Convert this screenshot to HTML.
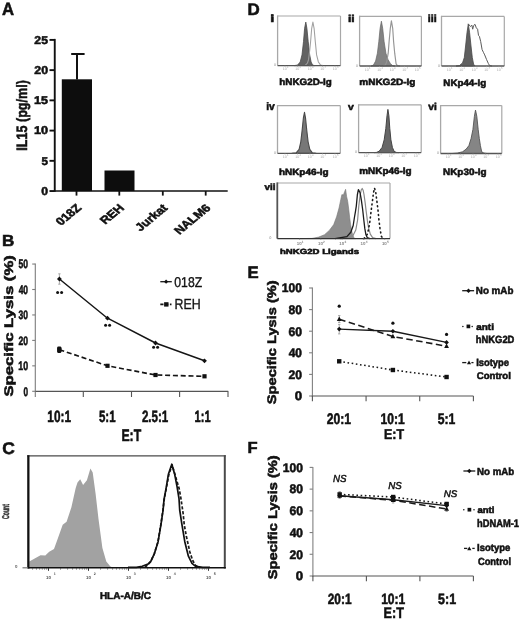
<!DOCTYPE html>
<html><head><meta charset="utf-8"><style>
html,body{margin:0;padding:0;background:#fff;}
svg{display:block;filter:grayscale(1) blur(0.3px);}
text{font-family:"Liberation Sans", sans-serif;text-rendering:geometricPrecision;}
</style></head><body>
<svg width="520" height="620" viewBox="0 0 520 620">
<rect x="0" y="0" width="520" height="620" fill="#fff"/>
<text x="1.98" y="15.40" font-size="17.73" font-weight="bold" font-style="normal" textLength="12.06" lengthAdjust="spacingAndGlyphs" fill="#111" stroke="#111" stroke-width="0.55">A</text>
<text x="2.06" y="245.60" font-size="15.99" font-weight="bold" font-style="normal" textLength="12.32" lengthAdjust="spacingAndGlyphs" fill="#111" stroke="#111" stroke-width="0.55">B</text>
<text x="2.28" y="453.60" font-size="16.86" font-weight="bold" font-style="normal" textLength="12.59" lengthAdjust="spacingAndGlyphs" fill="#111" stroke="#111" stroke-width="0.55">C</text>
<text x="247.47" y="15.20" font-size="16.86" font-weight="bold" font-style="normal" textLength="12.25" lengthAdjust="spacingAndGlyphs" fill="#111" stroke="#111" stroke-width="0.55">D</text>
<text x="247.48" y="278.00" font-size="16.57" font-weight="bold" font-style="normal" textLength="11.18" lengthAdjust="spacingAndGlyphs" fill="#111" stroke="#111" stroke-width="0.55">E</text>
<text x="247.49" y="453.40" font-size="15.99" font-weight="bold" font-style="normal" textLength="10.11" lengthAdjust="spacingAndGlyphs" fill="#111" stroke="#111" stroke-width="0.55">F</text>
<line x1="54.75" y1="38.90" x2="54.75" y2="191.80" stroke="#111" stroke-width="1.9"/>
<line x1="54.75" y1="191.05" x2="227.70" y2="191.05" stroke="#111" stroke-width="1.6"/>
<line x1="49.50" y1="191.05" x2="54.75" y2="191.05" stroke="#111" stroke-width="1.9"/>
<text x="41.32" y="194.95" font-size="11.34" font-weight="bold" font-style="normal" textLength="6.78" lengthAdjust="spacingAndGlyphs" fill="#111" stroke="#111" stroke-width="0.55">0</text>
<line x1="49.50" y1="160.82" x2="54.75" y2="160.82" stroke="#111" stroke-width="1.9"/>
<text x="41.44" y="164.72" font-size="11.34" font-weight="bold" font-style="normal" textLength="6.48" lengthAdjust="spacingAndGlyphs" fill="#111" stroke="#111" stroke-width="0.55">5</text>
<line x1="49.50" y1="130.59" x2="54.75" y2="130.59" stroke="#111" stroke-width="1.9"/>
<text x="34.00" y="134.49" font-size="11.34" font-weight="bold" font-style="normal" textLength="14.12" lengthAdjust="spacingAndGlyphs" fill="#111" stroke="#111" stroke-width="0.55">10</text>
<line x1="49.50" y1="100.36" x2="54.75" y2="100.36" stroke="#111" stroke-width="1.9"/>
<text x="34.01" y="104.26" font-size="11.34" font-weight="bold" font-style="normal" textLength="13.94" lengthAdjust="spacingAndGlyphs" fill="#111" stroke="#111" stroke-width="0.55">15</text>
<line x1="49.50" y1="70.13" x2="54.75" y2="70.13" stroke="#111" stroke-width="1.9"/>
<text x="34.37" y="74.03" font-size="11.34" font-weight="bold" font-style="normal" textLength="13.73" lengthAdjust="spacingAndGlyphs" fill="#111" stroke="#111" stroke-width="0.55">20</text>
<line x1="49.50" y1="39.90" x2="54.75" y2="39.90" stroke="#111" stroke-width="1.9"/>
<text x="34.38" y="43.80" font-size="11.34" font-weight="bold" font-style="normal" textLength="13.56" lengthAdjust="spacingAndGlyphs" fill="#111" stroke="#111" stroke-width="0.55">25</text>
<line x1="76.50" y1="191.05" x2="76.50" y2="195.60" stroke="#111" stroke-width="1.8"/>
<line x1="119.30" y1="191.05" x2="119.30" y2="195.60" stroke="#111" stroke-width="1.8"/>
<line x1="162.80" y1="191.05" x2="162.80" y2="195.60" stroke="#111" stroke-width="1.8"/>
<line x1="205.70" y1="191.05" x2="205.70" y2="195.60" stroke="#111" stroke-width="1.8"/>
<rect x="61.80" y="79.30" width="30.20" height="111.75" fill="#0d0d0d"/>
<rect x="104.50" y="170.50" width="30.00" height="20.55" fill="#0d0d0d"/>
<line x1="77.00" y1="54.00" x2="77.00" y2="79.50" stroke="#111" stroke-width="2"/>
<line x1="71.20" y1="54.00" x2="84.60" y2="54.00" stroke="#111" stroke-width="2"/>
<text transform="translate(26.50,150.64) rotate(-90)" x="0" y="0" font-size="14.97" font-weight="bold" textLength="70.47" lengthAdjust="spacingAndGlyphs" fill="#111" stroke="#111" stroke-width="0.55">IL15 (pg/ml)</text>
<text transform="matrix(0.7920,-0.6576,0.7920,0.6576,82.10,208.60)" x="0" y="0" font-size="11.70" font-weight="bold" text-anchor="end" fill="#111" stroke="#111" stroke-width="0.55">018Z</text>
<text transform="matrix(0.7920,-0.6576,0.7920,0.6576,124.90,208.60)" x="0" y="0" font-size="11.70" font-weight="bold" text-anchor="end" fill="#111" stroke="#111" stroke-width="0.55">REH</text>
<text transform="matrix(0.7920,-0.6576,0.7920,0.6576,168.40,208.60)" x="0" y="0" font-size="11.70" font-weight="bold" text-anchor="end" fill="#111" stroke="#111" stroke-width="0.55">Jurkat</text>
<text transform="matrix(0.7920,-0.6576,0.7920,0.6576,211.30,208.60)" x="0" y="0" font-size="11.70" font-weight="bold" text-anchor="end" fill="#111" stroke="#111" stroke-width="0.55">NALM6</text>
<line x1="35.30" y1="263.55" x2="35.30" y2="397.00" stroke="#7d7d7d" stroke-width="1.1"/>
<line x1="35.30" y1="391.30" x2="228.20" y2="391.30" stroke="#555" stroke-width="1.2"/>
<line x1="32.20" y1="391.30" x2="35.30" y2="391.30" stroke="#7d7d7d" stroke-width="1.1"/>
<text x="23.48" y="395.60" font-size="12.50" font-weight="bold" font-style="normal" textLength="4.56" lengthAdjust="spacingAndGlyphs" fill="#111" stroke="#111" stroke-width="0.55">0</text>
<line x1="32.20" y1="365.85" x2="35.30" y2="365.85" stroke="#7d7d7d" stroke-width="1.1"/>
<text x="18.24" y="370.05" font-size="12.21" font-weight="bold" font-style="normal" textLength="9.82" lengthAdjust="spacingAndGlyphs" fill="#111" stroke="#111" stroke-width="0.55">10</text>
<line x1="32.20" y1="340.40" x2="35.30" y2="340.40" stroke="#7d7d7d" stroke-width="1.1"/>
<text x="18.50" y="344.60" font-size="12.21" font-weight="bold" font-style="normal" textLength="9.55" lengthAdjust="spacingAndGlyphs" fill="#111" stroke="#111" stroke-width="0.55">20</text>
<line x1="32.20" y1="314.95" x2="35.30" y2="314.95" stroke="#7d7d7d" stroke-width="1.1"/>
<text x="18.61" y="319.15" font-size="12.21" font-weight="bold" font-style="normal" textLength="9.44" lengthAdjust="spacingAndGlyphs" fill="#111" stroke="#111" stroke-width="0.55">30</text>
<line x1="32.20" y1="289.50" x2="35.30" y2="289.50" stroke="#7d7d7d" stroke-width="1.1"/>
<text x="18.67" y="293.70" font-size="12.21" font-weight="bold" font-style="normal" textLength="9.37" lengthAdjust="spacingAndGlyphs" fill="#111" stroke="#111" stroke-width="0.55">40</text>
<line x1="32.20" y1="264.05" x2="35.30" y2="264.05" stroke="#7d7d7d" stroke-width="1.1"/>
<text x="18.54" y="268.25" font-size="12.21" font-weight="bold" font-style="normal" textLength="9.51" lengthAdjust="spacingAndGlyphs" fill="#111" stroke="#111" stroke-width="0.55">50</text>
<line x1="83.30" y1="391.30" x2="83.30" y2="397.00" stroke="#555" stroke-width="1.1"/>
<line x1="131.50" y1="391.30" x2="131.50" y2="397.00" stroke="#555" stroke-width="1.1"/>
<line x1="179.60" y1="391.30" x2="179.60" y2="397.00" stroke="#555" stroke-width="1.1"/>
<line x1="228.00" y1="391.30" x2="228.00" y2="397.00" stroke="#555" stroke-width="1.1"/>
<text x="47.36" y="422.30" font-size="16.42" font-weight="bold" font-style="normal" textLength="23.57" lengthAdjust="spacingAndGlyphs" fill="#111" stroke="#111" stroke-width="0.55">10:1</text>
<text x="98.95" y="422.30" font-size="16.42" font-weight="bold" font-style="normal" textLength="16.57" lengthAdjust="spacingAndGlyphs" fill="#111" stroke="#111" stroke-width="0.55">5:1</text>
<text x="141.90" y="422.30" font-size="16.42" font-weight="bold" font-style="normal" textLength="26.42" lengthAdjust="spacingAndGlyphs" fill="#111" stroke="#111" stroke-width="0.55">2.5:1</text>
<text x="194.60" y="422.30" font-size="16.42" font-weight="bold" font-style="normal" textLength="16.01" lengthAdjust="spacingAndGlyphs" fill="#111" stroke="#111" stroke-width="0.55">1:1</text>
<text x="121.38" y="441.00" font-size="16.57" font-weight="bold" font-style="normal" textLength="19.75" lengthAdjust="spacingAndGlyphs" fill="#111" stroke="#111" stroke-width="0.55">E:T</text>
<text transform="translate(13.10,396.58) rotate(-90)" x="0" y="0" font-size="12.35" font-weight="bold" textLength="141.41" lengthAdjust="spacingAndGlyphs" fill="#111" stroke="#111" stroke-width="0.55">Specific Lysis (%)</text>
<line x1="59.40" y1="273.80" x2="59.40" y2="284.20" stroke="#999" stroke-width="0.8"/>
<line x1="58.20" y1="273.80" x2="60.60" y2="273.80" stroke="#999" stroke-width="0.8"/>
<line x1="58.20" y1="284.20" x2="60.60" y2="284.20" stroke="#999" stroke-width="0.8"/>
<path d="M59.40,279.00 L107.50,318.20 L155.50,343.00 L204.50,360.80" fill="none" stroke="#151515" stroke-width="1.45" stroke-linejoin="round"/>
<path d="M59.40,349.70 L107.50,365.80 L155.50,375.00 L204.50,376.30" fill="none" stroke="#151515" stroke-width="1.65" stroke-linejoin="round" stroke-dasharray="5,2.8"/>
<path d="M59.40,276.60 L61.80,279.00 L59.40,281.40 L57.00,279.00 Z" fill="#111" stroke="none" stroke-width="1" stroke-linejoin="round"/>
<path d="M107.50,315.80 L109.90,318.20 L107.50,320.60 L105.10,318.20 Z" fill="#111" stroke="none" stroke-width="1" stroke-linejoin="round"/>
<path d="M155.50,340.60 L157.90,343.00 L155.50,345.40 L153.10,343.00 Z" fill="#111" stroke="none" stroke-width="1" stroke-linejoin="round"/>
<path d="M204.50,358.40 L206.90,360.80 L204.50,363.20 L202.10,360.80 Z" fill="#111" stroke="none" stroke-width="1" stroke-linejoin="round"/>
<rect x="57.30" y="347.60" width="4.20" height="4.20" fill="#111"/>
<rect x="105.40" y="363.70" width="4.20" height="4.20" fill="#111"/>
<rect x="153.40" y="372.90" width="4.20" height="4.20" fill="#111"/>
<rect x="202.40" y="374.20" width="4.20" height="4.20" fill="#111"/>
<circle cx="57.60" cy="292.40" r="1.5" fill="#111"/>
<circle cx="61.60" cy="292.40" r="1.5" fill="#111"/>
<circle cx="105.60" cy="325.20" r="1.5" fill="#111"/>
<circle cx="109.60" cy="325.20" r="1.5" fill="#111"/>
<circle cx="153.60" cy="347.20" r="1.5" fill="#111"/>
<circle cx="157.60" cy="347.20" r="1.5" fill="#111"/>
<line x1="160.30" y1="281.70" x2="171.80" y2="281.70" stroke="#151515" stroke-width="1.3"/>
<path d="M166.10,279.60 L168.20,281.70 L166.10,283.80 L164.00,281.70 Z" fill="#111" stroke="none" stroke-width="1" stroke-linejoin="round"/>
<line x1="160.30" y1="304.40" x2="171.50" y2="304.40" stroke="#151515" stroke-width="1.6" stroke-dasharray="3.2,1.6"/>
<rect x="164.10" y="302.20" width="4.40" height="4.40" fill="#111"/>
<text x="174.32" y="287.20" font-size="14.24" font-weight="normal" font-style="normal" textLength="27.86" lengthAdjust="spacingAndGlyphs" fill="#111" stroke="#111" stroke-width="0.35">018Z</text>
<text x="174.49" y="309.30" font-size="14.68" font-weight="normal" font-style="normal" textLength="26.12" lengthAdjust="spacingAndGlyphs" fill="#111" stroke="#111" stroke-width="0.35">REH</text>
<path d="M29.30,567.30 L29.30,561.40 L34.70,558.50 L40.50,555.30 L45.30,555.60 L49.20,551.80 L54.00,548.90 L57.90,538.20 L62.70,524.70 L66.60,521.80 L71.40,507.30 L75.70,487.90 L77.50,482.50 L80.20,479.20 L83.10,485.00 L86.90,480.20 L90.40,468.50 L92.70,472.40 L95.60,493.70 L98.50,518.90 L102.40,547.90 L106.30,561.40 L110.20,566.30 L112.00,567.30 Z" fill="#a2a2a2" stroke="none" stroke-width="1" stroke-linejoin="round"/>
<path d="M145.00,567.30 L150.50,562.00 L154.30,553.80 L157.90,542.00 L160.80,524.80 L162.90,510.50 L164.20,499.50 L166.20,488.80 L168.90,474.30 L172.20,465.00 L176.60,480.10 L179.20,488.80 L180.80,497.60 L182.20,507.20 L183.20,514.00 L184.20,524.40 L186.30,536.00 L189.80,551.80 L192.70,560.50 L195.60,565.60 L200.00,567.30" fill="none" stroke="#1a1a1a" stroke-width="1.7" stroke-linejoin="round" stroke-dasharray="3.2,1.8"/>
<path d="M128.00,567.30 L136.40,567.40 L142.20,566.30 L148.00,564.10 L150.90,561.20 L154.50,553.30 L158.10,541.70 L161.00,524.40 L163.10,510.00 L164.00,499.50 L166.00,488.80 L168.40,474.30 L171.80,464.20 L174.70,474.30 L177.10,486.90 L179.00,498.50 L179.70,510.00 L181.90,524.40 L184.80,541.70 L188.40,556.20 L192.00,563.40 L195.60,566.30 L202.80,567.40 L210.00,567.30" fill="none" stroke="#111" stroke-width="1.7" stroke-linejoin="round"/>
<line x1="27.20" y1="455.90" x2="225.80" y2="455.90" stroke="#4a4a4a" stroke-width="1.4"/>
<line x1="224.80" y1="455.20" x2="224.80" y2="568.50" stroke="#4a4a4a" stroke-width="2.0"/>
<line x1="28.35" y1="455.20" x2="28.35" y2="568.50" stroke="#111" stroke-width="2.3"/>
<line x1="22.50" y1="567.80" x2="28.00" y2="567.80" stroke="#777" stroke-width="1.2"/>
<line x1="28.00" y1="567.80" x2="225.80" y2="567.80" stroke="#111" stroke-width="1.5"/>
<line x1="48.50" y1="568.00" x2="48.50" y2="570.80" stroke="#333" stroke-width="1.0"/>
<line x1="32.58" y1="568.00" x2="32.58" y2="569.60" stroke="#555" stroke-width="0.8"/>
<line x1="36.46" y1="568.00" x2="36.46" y2="569.60" stroke="#555" stroke-width="0.8"/>
<line x1="39.63" y1="568.00" x2="39.63" y2="569.60" stroke="#555" stroke-width="0.8"/>
<line x1="42.30" y1="568.00" x2="42.30" y2="569.60" stroke="#555" stroke-width="0.8"/>
<line x1="44.62" y1="568.00" x2="44.62" y2="569.60" stroke="#555" stroke-width="0.8"/>
<line x1="46.67" y1="568.00" x2="46.67" y2="569.60" stroke="#555" stroke-width="0.8"/>
<text x="46.10" y="579.2" font-size="4.4" font-weight="bold" fill="#555">10</text>
<text x="53.70" y="575.4" font-size="3.6" font-weight="bold" fill="#555">1</text>
<line x1="88.50" y1="568.00" x2="88.50" y2="570.80" stroke="#333" stroke-width="1.0"/>
<line x1="60.54" y1="568.00" x2="60.54" y2="569.60" stroke="#555" stroke-width="0.8"/>
<line x1="67.58" y1="568.00" x2="67.58" y2="569.60" stroke="#555" stroke-width="0.8"/>
<line x1="72.58" y1="568.00" x2="72.58" y2="569.60" stroke="#555" stroke-width="0.8"/>
<line x1="76.46" y1="568.00" x2="76.46" y2="569.60" stroke="#555" stroke-width="0.8"/>
<line x1="79.63" y1="568.00" x2="79.63" y2="569.60" stroke="#555" stroke-width="0.8"/>
<line x1="82.30" y1="568.00" x2="82.30" y2="569.60" stroke="#555" stroke-width="0.8"/>
<line x1="84.62" y1="568.00" x2="84.62" y2="569.60" stroke="#555" stroke-width="0.8"/>
<line x1="86.67" y1="568.00" x2="86.67" y2="569.60" stroke="#555" stroke-width="0.8"/>
<text x="86.10" y="579.2" font-size="4.4" font-weight="bold" fill="#555">10</text>
<text x="93.70" y="575.4" font-size="3.6" font-weight="bold" fill="#555">2</text>
<line x1="128.50" y1="568.00" x2="128.50" y2="570.80" stroke="#333" stroke-width="1.0"/>
<line x1="100.54" y1="568.00" x2="100.54" y2="569.60" stroke="#555" stroke-width="0.8"/>
<line x1="107.58" y1="568.00" x2="107.58" y2="569.60" stroke="#555" stroke-width="0.8"/>
<line x1="112.58" y1="568.00" x2="112.58" y2="569.60" stroke="#555" stroke-width="0.8"/>
<line x1="116.46" y1="568.00" x2="116.46" y2="569.60" stroke="#555" stroke-width="0.8"/>
<line x1="119.63" y1="568.00" x2="119.63" y2="569.60" stroke="#555" stroke-width="0.8"/>
<line x1="122.30" y1="568.00" x2="122.30" y2="569.60" stroke="#555" stroke-width="0.8"/>
<line x1="124.62" y1="568.00" x2="124.62" y2="569.60" stroke="#555" stroke-width="0.8"/>
<line x1="126.67" y1="568.00" x2="126.67" y2="569.60" stroke="#555" stroke-width="0.8"/>
<text x="126.10" y="579.2" font-size="4.4" font-weight="bold" fill="#555">10</text>
<text x="133.70" y="575.4" font-size="3.6" font-weight="bold" fill="#555">3</text>
<line x1="168.50" y1="568.00" x2="168.50" y2="570.80" stroke="#333" stroke-width="1.0"/>
<line x1="140.54" y1="568.00" x2="140.54" y2="569.60" stroke="#555" stroke-width="0.8"/>
<line x1="147.58" y1="568.00" x2="147.58" y2="569.60" stroke="#555" stroke-width="0.8"/>
<line x1="152.58" y1="568.00" x2="152.58" y2="569.60" stroke="#555" stroke-width="0.8"/>
<line x1="156.46" y1="568.00" x2="156.46" y2="569.60" stroke="#555" stroke-width="0.8"/>
<line x1="159.63" y1="568.00" x2="159.63" y2="569.60" stroke="#555" stroke-width="0.8"/>
<line x1="162.30" y1="568.00" x2="162.30" y2="569.60" stroke="#555" stroke-width="0.8"/>
<line x1="164.62" y1="568.00" x2="164.62" y2="569.60" stroke="#555" stroke-width="0.8"/>
<line x1="166.67" y1="568.00" x2="166.67" y2="569.60" stroke="#555" stroke-width="0.8"/>
<text x="166.10" y="579.2" font-size="4.4" font-weight="bold" fill="#555">10</text>
<text x="173.70" y="575.4" font-size="3.6" font-weight="bold" fill="#555">4</text>
<line x1="208.50" y1="568.00" x2="208.50" y2="570.80" stroke="#333" stroke-width="1.0"/>
<line x1="180.54" y1="568.00" x2="180.54" y2="569.60" stroke="#555" stroke-width="0.8"/>
<line x1="187.58" y1="568.00" x2="187.58" y2="569.60" stroke="#555" stroke-width="0.8"/>
<line x1="192.58" y1="568.00" x2="192.58" y2="569.60" stroke="#555" stroke-width="0.8"/>
<line x1="196.46" y1="568.00" x2="196.46" y2="569.60" stroke="#555" stroke-width="0.8"/>
<line x1="199.63" y1="568.00" x2="199.63" y2="569.60" stroke="#555" stroke-width="0.8"/>
<line x1="202.30" y1="568.00" x2="202.30" y2="569.60" stroke="#555" stroke-width="0.8"/>
<line x1="204.62" y1="568.00" x2="204.62" y2="569.60" stroke="#555" stroke-width="0.8"/>
<line x1="206.67" y1="568.00" x2="206.67" y2="569.60" stroke="#555" stroke-width="0.8"/>
<text x="206.10" y="579.2" font-size="4.4" font-weight="bold" fill="#555">10</text>
<text x="213.70" y="575.4" font-size="3.6" font-weight="bold" fill="#555">5</text>
<text x="15" y="568.0" font-size="4.4" font-weight="bold" fill="#666">0</text>
<text transform="translate(8.80,518.91) rotate(-90)" x="0" y="0" font-size="9.88" font-weight="bold" textLength="14.77" lengthAdjust="spacingAndGlyphs" fill="#333" stroke="#333" stroke-width="0.55">Count</text>
<text x="99.93" y="599.20" font-size="9.88" font-weight="bold" font-style="normal" textLength="50.94" lengthAdjust="spacingAndGlyphs" fill="#111" stroke="#111" stroke-width="0.55">HLA-A/B/C</text>
<line x1="277.60" y1="16.00" x2="340.50" y2="16.00" stroke="#a8a8a8" stroke-width="1.2"/>
<line x1="340.50" y1="16.00" x2="340.50" y2="65.60" stroke="#a8a8a8" stroke-width="1.2"/>
<line x1="277.60" y1="15.40" x2="277.60" y2="65.60" stroke="#a8a8a8" stroke-width="1.3"/>
<path d="M294.00,65.60 L297.50,65.10 L300.20,62.00 L302.00,54.90 L303.50,41.60 L304.60,28.30 L305.80,22.10 L306.90,28.30 L308.20,41.60 L309.70,54.90 L311.10,62.00 L312.60,65.10 L315.00,65.60 Z" fill="#626262" stroke="#4a4a4a" stroke-width="0.8" stroke-linejoin="round"/>
<path d="M305.00,65.60 L307.50,63.00 L308.60,59.40 L309.70,50.50 L310.60,41.60 L311.70,28.30 L312.90,22.10 L314.10,28.30 L315.30,41.60 L316.60,54.90 L318.40,62.00 L320.60,65.10 L323.00,65.60" fill="none" stroke="#a0a0a0" stroke-width="1.05" stroke-linejoin="round"/>
<line x1="277.60" y1="65.60" x2="340.50" y2="65.60" stroke="#555" stroke-width="1.3"/>
<text x="282.80" y="70.20" font-size="3.6" fill="#aaa">10</text>
<text x="286.90" y="68.40" font-size="2.8" fill="#aaa">1</text>
<line x1="285.00" y1="65.60" x2="285.00" y2="66.80" stroke="#999" stroke-width="0.6"/>
<text x="295.30" y="70.20" font-size="3.6" fill="#aaa">10</text>
<text x="299.40" y="68.40" font-size="2.8" fill="#aaa">2</text>
<line x1="297.50" y1="65.60" x2="297.50" y2="66.80" stroke="#999" stroke-width="0.6"/>
<text x="307.80" y="70.20" font-size="3.6" fill="#aaa">10</text>
<text x="311.90" y="68.40" font-size="2.8" fill="#aaa">3</text>
<line x1="310.00" y1="65.60" x2="310.00" y2="66.80" stroke="#999" stroke-width="0.6"/>
<text x="320.30" y="70.20" font-size="3.6" fill="#aaa">10</text>
<text x="324.40" y="68.40" font-size="2.8" fill="#aaa">4</text>
<line x1="322.50" y1="65.60" x2="322.50" y2="66.80" stroke="#999" stroke-width="0.6"/>
<text x="332.80" y="70.20" font-size="3.6" fill="#aaa">10</text>
<text x="336.90" y="68.40" font-size="2.8" fill="#aaa">5</text>
<line x1="335.00" y1="65.60" x2="335.00" y2="66.80" stroke="#999" stroke-width="0.6"/>
<text x="274.00" y="66.20" font-size="3.6" fill="#888">0</text>
<line x1="359.60" y1="16.30" x2="421.40" y2="16.30" stroke="#a8a8a8" stroke-width="1.2"/>
<line x1="421.40" y1="16.30" x2="421.40" y2="66.00" stroke="#a8a8a8" stroke-width="1.2"/>
<line x1="359.60" y1="15.70" x2="359.60" y2="66.00" stroke="#a8a8a8" stroke-width="1.3"/>
<path d="M371.00,66.00 L373.40,65.10 L375.60,61.10 L377.40,53.20 L378.80,41.60 L380.10,28.30 L381.40,21.20 L382.70,28.30 L384.10,41.60 L385.90,53.20 L388.10,59.80 L390.30,63.40 L392.50,65.60 L395.00,66.00 Z" fill="#838383" stroke="#666" stroke-width="0.7" stroke-linejoin="round"/>
<path d="M383.00,66.00 L385.40,65.10 L386.70,62.00 L388.20,53.20 L389.10,41.60 L390.30,28.30 L391.40,20.80 L392.70,28.30 L393.60,41.60 L394.70,53.20 L396.10,63.80 L397.40,65.60 L400.00,66.00" fill="none" stroke="#959595" stroke-width="1.15" stroke-linejoin="round"/>
<line x1="359.60" y1="66.00" x2="421.40" y2="66.00" stroke="#555" stroke-width="1.3"/>
<text x="364.80" y="70.60" font-size="3.6" fill="#aaa">10</text>
<text x="368.90" y="68.80" font-size="2.8" fill="#aaa">1</text>
<line x1="367.00" y1="66.00" x2="367.00" y2="67.20" stroke="#999" stroke-width="0.6"/>
<text x="377.30" y="70.60" font-size="3.6" fill="#aaa">10</text>
<text x="381.40" y="68.80" font-size="2.8" fill="#aaa">2</text>
<line x1="379.50" y1="66.00" x2="379.50" y2="67.20" stroke="#999" stroke-width="0.6"/>
<text x="389.80" y="70.60" font-size="3.6" fill="#aaa">10</text>
<text x="393.90" y="68.80" font-size="2.8" fill="#aaa">3</text>
<line x1="392.00" y1="66.00" x2="392.00" y2="67.20" stroke="#999" stroke-width="0.6"/>
<text x="402.30" y="70.60" font-size="3.6" fill="#aaa">10</text>
<text x="406.40" y="68.80" font-size="2.8" fill="#aaa">4</text>
<line x1="404.50" y1="66.00" x2="404.50" y2="67.20" stroke="#999" stroke-width="0.6"/>
<text x="414.80" y="70.60" font-size="3.6" fill="#aaa">10</text>
<text x="418.90" y="68.80" font-size="2.8" fill="#aaa">5</text>
<line x1="417.00" y1="66.00" x2="417.00" y2="67.20" stroke="#999" stroke-width="0.6"/>
<text x="356.00" y="66.60" font-size="3.6" fill="#888">0</text>
<line x1="441.50" y1="16.40" x2="504.30" y2="16.40" stroke="#a8a8a8" stroke-width="1.2"/>
<line x1="504.30" y1="16.40" x2="504.30" y2="66.00" stroke="#a8a8a8" stroke-width="1.2"/>
<line x1="441.50" y1="15.80" x2="441.50" y2="66.00" stroke="#a8a8a8" stroke-width="1.3"/>
<path d="M456.00,66.00 L459.40,65.60 L462.50,62.90 L464.30,57.60 L465.60,46.00 L467.00,32.70 L468.30,23.90 L469.60,32.70 L471.00,46.00 L472.30,57.60 L473.60,64.20 L475.00,66.00 Z" fill="#5f5f5f" stroke="#484848" stroke-width="0.8" stroke-linejoin="round"/>
<path d="M468.30,23.90 L470.50,26.50 L471.90,25.20 L472.70,29.20 L473.60,25.60 L475.00,24.30 L476.30,27.90 L477.60,29.20 L478.50,35.40 L479.40,36.30 L480.70,41.60 L482.10,49.60 L483.40,52.30 L484.70,54.90 L486.50,59.40 L488.30,63.40 L489.60,65.60 L492.00,66.00" fill="none" stroke="#5a5a5a" stroke-width="1.0" stroke-linejoin="round"/>
<line x1="441.50" y1="66.00" x2="504.30" y2="66.00" stroke="#555" stroke-width="1.3"/>
<text x="446.80" y="70.60" font-size="3.6" fill="#aaa">10</text>
<text x="450.90" y="68.80" font-size="2.8" fill="#aaa">1</text>
<line x1="449.00" y1="66.00" x2="449.00" y2="67.20" stroke="#999" stroke-width="0.6"/>
<text x="459.30" y="70.60" font-size="3.6" fill="#aaa">10</text>
<text x="463.40" y="68.80" font-size="2.8" fill="#aaa">2</text>
<line x1="461.50" y1="66.00" x2="461.50" y2="67.20" stroke="#999" stroke-width="0.6"/>
<text x="471.80" y="70.60" font-size="3.6" fill="#aaa">10</text>
<text x="475.90" y="68.80" font-size="2.8" fill="#aaa">3</text>
<line x1="474.00" y1="66.00" x2="474.00" y2="67.20" stroke="#999" stroke-width="0.6"/>
<text x="484.30" y="70.60" font-size="3.6" fill="#aaa">10</text>
<text x="488.40" y="68.80" font-size="2.8" fill="#aaa">4</text>
<line x1="486.50" y1="66.00" x2="486.50" y2="67.20" stroke="#999" stroke-width="0.6"/>
<text x="496.80" y="70.60" font-size="3.6" fill="#aaa">10</text>
<text x="500.90" y="68.80" font-size="2.8" fill="#aaa">5</text>
<line x1="499.00" y1="66.00" x2="499.00" y2="67.20" stroke="#999" stroke-width="0.6"/>
<text x="437.90" y="66.60" font-size="3.6" fill="#888">0</text>
<line x1="277.50" y1="105.60" x2="340.30" y2="105.60" stroke="#a8a8a8" stroke-width="1.2"/>
<line x1="340.30" y1="105.60" x2="340.30" y2="153.30" stroke="#a8a8a8" stroke-width="1.2"/>
<line x1="277.50" y1="105.00" x2="277.50" y2="153.30" stroke="#a8a8a8" stroke-width="1.3"/>
<path d="M292.00,153.30 L296.10,152.90 L299.10,149.40 L300.80,141.80 L302.10,130.60 L303.40,117.80 L304.50,112.30 L305.50,117.80 L306.80,130.60 L308.10,141.80 L309.80,149.40 L312.40,152.90 L316.00,153.30 Z" fill="#777" stroke="#4a4a4a" stroke-width="1.1" stroke-linejoin="round"/>
<line x1="277.50" y1="153.30" x2="340.30" y2="153.30" stroke="#555" stroke-width="1.3"/>
<text x="282.80" y="157.90" font-size="3.6" fill="#aaa">10</text>
<text x="286.90" y="156.10" font-size="2.8" fill="#aaa">1</text>
<line x1="285.00" y1="153.30" x2="285.00" y2="154.50" stroke="#999" stroke-width="0.6"/>
<text x="295.30" y="157.90" font-size="3.6" fill="#aaa">10</text>
<text x="299.40" y="156.10" font-size="2.8" fill="#aaa">2</text>
<line x1="297.50" y1="153.30" x2="297.50" y2="154.50" stroke="#999" stroke-width="0.6"/>
<text x="307.80" y="157.90" font-size="3.6" fill="#aaa">10</text>
<text x="311.90" y="156.10" font-size="2.8" fill="#aaa">3</text>
<line x1="310.00" y1="153.30" x2="310.00" y2="154.50" stroke="#999" stroke-width="0.6"/>
<text x="320.30" y="157.90" font-size="3.6" fill="#aaa">10</text>
<text x="324.40" y="156.10" font-size="2.8" fill="#aaa">4</text>
<line x1="322.50" y1="153.30" x2="322.50" y2="154.50" stroke="#999" stroke-width="0.6"/>
<text x="332.80" y="157.90" font-size="3.6" fill="#aaa">10</text>
<text x="336.90" y="156.10" font-size="2.8" fill="#aaa">5</text>
<line x1="335.00" y1="153.30" x2="335.00" y2="154.50" stroke="#999" stroke-width="0.6"/>
<text x="273.90" y="153.90" font-size="3.6" fill="#888">0</text>
<line x1="358.60" y1="104.80" x2="421.20" y2="104.80" stroke="#a8a8a8" stroke-width="1.2"/>
<line x1="421.20" y1="104.80" x2="421.20" y2="152.60" stroke="#a8a8a8" stroke-width="1.2"/>
<line x1="358.60" y1="104.20" x2="358.60" y2="152.60" stroke="#a8a8a8" stroke-width="1.3"/>
<path d="M374.00,152.60 L376.50,152.40 L379.10,151.30 L382.10,147.40 L384.20,139.80 L385.80,128.60 L387.00,115.80 L387.90,109.40 L388.90,115.80 L389.80,128.60 L390.90,139.80 L392.40,147.40 L394.10,151.30 L396.20,152.40 L399.00,152.60 Z" fill="#676767" stroke="#444" stroke-width="1.0" stroke-linejoin="round"/>
<line x1="358.60" y1="152.60" x2="421.20" y2="152.60" stroke="#555" stroke-width="1.3"/>
<text x="363.80" y="157.20" font-size="3.6" fill="#aaa">10</text>
<text x="367.90" y="155.40" font-size="2.8" fill="#aaa">1</text>
<line x1="366.00" y1="152.60" x2="366.00" y2="153.80" stroke="#999" stroke-width="0.6"/>
<text x="376.30" y="157.20" font-size="3.6" fill="#aaa">10</text>
<text x="380.40" y="155.40" font-size="2.8" fill="#aaa">2</text>
<line x1="378.50" y1="152.60" x2="378.50" y2="153.80" stroke="#999" stroke-width="0.6"/>
<text x="388.80" y="157.20" font-size="3.6" fill="#aaa">10</text>
<text x="392.90" y="155.40" font-size="2.8" fill="#aaa">3</text>
<line x1="391.00" y1="152.60" x2="391.00" y2="153.80" stroke="#999" stroke-width="0.6"/>
<text x="401.30" y="157.20" font-size="3.6" fill="#aaa">10</text>
<text x="405.40" y="155.40" font-size="2.8" fill="#aaa">4</text>
<line x1="403.50" y1="152.60" x2="403.50" y2="153.80" stroke="#999" stroke-width="0.6"/>
<text x="413.80" y="157.20" font-size="3.6" fill="#aaa">10</text>
<text x="417.90" y="155.40" font-size="2.8" fill="#aaa">5</text>
<line x1="416.00" y1="152.60" x2="416.00" y2="153.80" stroke="#999" stroke-width="0.6"/>
<text x="355.00" y="153.20" font-size="3.6" fill="#888">0</text>
<line x1="440.60" y1="105.60" x2="501.80" y2="105.60" stroke="#a8a8a8" stroke-width="1.2"/>
<line x1="501.80" y1="105.60" x2="501.80" y2="153.50" stroke="#a8a8a8" stroke-width="1.2"/>
<line x1="440.60" y1="105.00" x2="440.60" y2="153.50" stroke="#a8a8a8" stroke-width="1.3"/>
<path d="M452.00,153.50 L457.30,153.10 L462.60,151.80 L466.20,149.10 L468.90,145.60 L471.10,138.50 L472.90,129.60 L474.40,116.30 L475.50,110.10 L476.80,116.30 L478.20,129.60 L479.30,138.50 L480.40,145.60 L481.70,151.80 L483.90,153.10 L487.00,153.50 Z" fill="#858585" stroke="#555" stroke-width="0.9" stroke-linejoin="round"/>
<line x1="440.60" y1="153.50" x2="501.80" y2="153.50" stroke="#555" stroke-width="1.3"/>
<text x="445.80" y="158.10" font-size="3.6" fill="#aaa">10</text>
<text x="449.90" y="156.30" font-size="2.8" fill="#aaa">1</text>
<line x1="448.00" y1="153.50" x2="448.00" y2="154.70" stroke="#999" stroke-width="0.6"/>
<text x="458.30" y="158.10" font-size="3.6" fill="#aaa">10</text>
<text x="462.40" y="156.30" font-size="2.8" fill="#aaa">2</text>
<line x1="460.50" y1="153.50" x2="460.50" y2="154.70" stroke="#999" stroke-width="0.6"/>
<text x="470.80" y="158.10" font-size="3.6" fill="#aaa">10</text>
<text x="474.90" y="156.30" font-size="2.8" fill="#aaa">3</text>
<line x1="473.00" y1="153.50" x2="473.00" y2="154.70" stroke="#999" stroke-width="0.6"/>
<text x="483.30" y="158.10" font-size="3.6" fill="#aaa">10</text>
<text x="487.40" y="156.30" font-size="2.8" fill="#aaa">4</text>
<line x1="485.50" y1="153.50" x2="485.50" y2="154.70" stroke="#999" stroke-width="0.6"/>
<text x="495.80" y="158.10" font-size="3.6" fill="#aaa">10</text>
<text x="499.90" y="156.30" font-size="2.8" fill="#aaa">5</text>
<line x1="498.00" y1="153.50" x2="498.00" y2="154.70" stroke="#999" stroke-width="0.6"/>
<text x="437.00" y="154.10" font-size="3.6" fill="#888">0</text>
<line x1="277.30" y1="183.00" x2="390.00" y2="183.00" stroke="#a8a8a8" stroke-width="1.2"/>
<line x1="390.00" y1="183.00" x2="390.00" y2="238.60" stroke="#a8a8a8" stroke-width="1.2"/>
<line x1="277.30" y1="182.40" x2="277.30" y2="238.60" stroke="#555" stroke-width="1.8"/>
<path d="M300.00,238.60 L311.90,238.40 L318.70,237.10 L324.50,234.70 L329.30,230.40 L333.70,224.60 L336.60,216.80 L339.00,208.10 L340.80,199.40 L341.90,194.60 L343.40,195.10 L344.60,191.70 L345.60,189.30 L346.60,196.50 L347.70,201.30 L348.70,209.10 L349.70,217.80 L350.60,224.60 L351.60,230.40 L352.60,234.70 L354.00,238.10 L356.00,238.60 Z" fill="#8e8e8e" stroke="#777" stroke-width="0.6" stroke-linejoin="round"/>
<path d="M340.00,238.60 L352.50,236.50 L355.80,230.00 L357.60,220.00 L358.80,206.00 L360.00,196.00 L361.20,190.00 L362.20,188.50 L363.20,190.50 L364.00,194.50 L365.20,203.20 L366.10,210.70 L367.40,220.70 L368.70,228.40 L370.30,234.20 L372.60,237.60 L376.00,238.60" fill="none" stroke="#8a8a8a" stroke-width="1.2" stroke-linejoin="round"/>
<path d="M335.00,238.60 L346.90,236.60 L350.80,232.30 L353.20,225.50 L354.50,217.00 L355.40,211.90 L356.30,206.10 L357.40,194.50 L358.40,189.60 L360.10,192.80 L361.40,200.30 L362.60,209.00 L363.90,220.70 L364.80,228.40 L365.80,234.20 L367.20,237.60 L370.00,238.60" fill="none" stroke="#1a1a1a" stroke-width="1.3" stroke-linejoin="round"/>
<path d="M364.00,238.60 L367.40,234.20 L368.70,228.40 L370.00,220.70 L371.10,211.00 L372.40,201.30 L373.50,192.60 L374.50,188.00 L375.80,192.60 L376.90,201.30 L378.10,211.00 L379.00,220.70 L380.00,228.40 L381.30,236.20 L383.00,238.60" fill="none" stroke="#1a1a1a" stroke-width="1.6" stroke-linejoin="round" stroke-dasharray="1.0,3.4" stroke-linecap="round"/>
<line x1="277.30" y1="238.60" x2="390.00" y2="238.60" stroke="#333" stroke-width="1.4"/>
<text x="296.70" y="245.00" font-size="4.4" font-weight="bold" fill="#8a8a8a">10</text>
<text x="301.80" y="242.60" font-size="3.2" font-weight="bold" fill="#8a8a8a">1</text>
<line x1="299.50" y1="238.60" x2="299.50" y2="240.00" stroke="#888" stroke-width="0.6"/>
<text x="318.00" y="245.00" font-size="4.4" font-weight="bold" fill="#8a8a8a">10</text>
<text x="323.10" y="242.60" font-size="3.2" font-weight="bold" fill="#8a8a8a">2</text>
<line x1="320.80" y1="238.60" x2="320.80" y2="240.00" stroke="#888" stroke-width="0.6"/>
<text x="339.30" y="245.00" font-size="4.4" font-weight="bold" fill="#8a8a8a">10</text>
<text x="344.40" y="242.60" font-size="3.2" font-weight="bold" fill="#8a8a8a">3</text>
<line x1="342.10" y1="238.60" x2="342.10" y2="240.00" stroke="#888" stroke-width="0.6"/>
<text x="360.60" y="245.00" font-size="4.4" font-weight="bold" fill="#8a8a8a">10</text>
<text x="365.70" y="242.60" font-size="3.2" font-weight="bold" fill="#8a8a8a">4</text>
<line x1="363.40" y1="238.60" x2="363.40" y2="240.00" stroke="#888" stroke-width="0.6"/>
<text x="381.90" y="245.00" font-size="4.4" font-weight="bold" fill="#8a8a8a">10</text>
<text x="387.00" y="242.60" font-size="3.2" font-weight="bold" fill="#8a8a8a">5</text>
<line x1="384.70" y1="238.60" x2="384.70" y2="240.00" stroke="#888" stroke-width="0.6"/>
<text x="269.2" y="239.40" font-size="3.8" fill="#888">0</text>
<text x="270.28" y="21.80" font-size="10.21" font-weight="bold" font-style="normal" textLength="4.05" lengthAdjust="spacingAndGlyphs" fill="#111" stroke="#111" stroke-width="0.55">i</text>
<text x="347.96" y="22.10" font-size="9.94" font-weight="bold" font-style="normal" textLength="6.69" lengthAdjust="spacingAndGlyphs" fill="#111" stroke="#111" stroke-width="0.55">ii</text>
<text x="427.84" y="22.10" font-size="10.35" font-weight="bold" font-style="normal" textLength="9.02" lengthAdjust="spacingAndGlyphs" fill="#111" stroke="#111" stroke-width="0.55">iii</text>
<text x="266.18" y="109.80" font-size="10.76" font-weight="bold" font-style="normal" textLength="8.56" lengthAdjust="spacingAndGlyphs" fill="#111" stroke="#111" stroke-width="0.55">iv</text>
<text x="348.06" y="109.50" font-size="9.65" font-weight="bold" font-style="normal" textLength="5.79" lengthAdjust="spacingAndGlyphs" fill="#111" stroke="#111" stroke-width="0.55">v</text>
<text x="428.26" y="110.40" font-size="9.94" font-weight="bold" font-style="normal" textLength="8.57" lengthAdjust="spacingAndGlyphs" fill="#111" stroke="#111" stroke-width="0.55">vi</text>
<text x="264.46" y="189.90" font-size="8.97" font-weight="bold" font-style="normal" textLength="11.04" lengthAdjust="spacingAndGlyphs" fill="#111" stroke="#111" stroke-width="0.55">vii</text>
<text x="279.31" y="85.03" font-size="9.29" font-weight="bold" font-style="normal" textLength="52.55" lengthAdjust="spacingAndGlyphs" fill="#111" stroke="#111" stroke-width="0.55">hNKG2D-Ig</text>
<text x="359.24" y="84.97" font-size="9.12" font-weight="bold" font-style="normal" textLength="56.23" lengthAdjust="spacingAndGlyphs" fill="#111" stroke="#111" stroke-width="0.55">mNKG2D-Ig</text>
<text x="443.35" y="85.50" font-size="9.45" font-weight="bold" font-style="normal" textLength="42.91" lengthAdjust="spacingAndGlyphs" fill="#111" stroke="#111" stroke-width="0.55">NKp44-Ig</text>
<text x="278.91" y="174.70" font-size="8.97" font-weight="bold" font-style="normal" textLength="49.76" lengthAdjust="spacingAndGlyphs" fill="#111" stroke="#111" stroke-width="0.55">hNKp46-Ig</text>
<text x="359.25" y="174.02" font-size="9.34" font-weight="bold" font-style="normal" textLength="52.42" lengthAdjust="spacingAndGlyphs" fill="#111" stroke="#111" stroke-width="0.55">mNKp46-Ig</text>
<text x="443.04" y="174.72" font-size="9.34" font-weight="bold" font-style="normal" textLength="43.53" lengthAdjust="spacingAndGlyphs" fill="#111" stroke="#111" stroke-width="0.55">NKp30-Ig</text>
<text x="279.93" y="254.34" font-size="7.37" font-weight="bold" font-style="normal" textLength="79.17" lengthAdjust="spacingAndGlyphs" fill="#111" stroke="#111" stroke-width="0.55">hNKG2D Ligands</text>
<line x1="312.40" y1="287.50" x2="312.40" y2="396.60" stroke="#808080" stroke-width="1.1"/>
<line x1="311.80" y1="396.00" x2="473.40" y2="396.00" stroke="#555" stroke-width="1.2"/>
<line x1="309.10" y1="288.00" x2="312.40" y2="288.00" stroke="#808080" stroke-width="1.1"/>
<text x="281.84" y="292.30" font-size="12.50" font-weight="bold" font-style="normal" textLength="20.16" lengthAdjust="spacingAndGlyphs" fill="#111" stroke="#111" stroke-width="0.55">100</text>
<line x1="309.10" y1="309.60" x2="312.40" y2="309.60" stroke="#808080" stroke-width="1.1"/>
<text x="288.52" y="313.90" font-size="12.50" font-weight="bold" font-style="normal" textLength="13.48" lengthAdjust="spacingAndGlyphs" fill="#111" stroke="#111" stroke-width="0.55">80</text>
<line x1="309.10" y1="331.20" x2="312.40" y2="331.20" stroke="#808080" stroke-width="1.1"/>
<text x="288.45" y="335.50" font-size="12.50" font-weight="bold" font-style="normal" textLength="13.55" lengthAdjust="spacingAndGlyphs" fill="#111" stroke="#111" stroke-width="0.55">60</text>
<line x1="309.10" y1="352.80" x2="312.40" y2="352.80" stroke="#808080" stroke-width="1.1"/>
<text x="288.72" y="357.10" font-size="12.50" font-weight="bold" font-style="normal" textLength="13.27" lengthAdjust="spacingAndGlyphs" fill="#111" stroke="#111" stroke-width="0.55">40</text>
<line x1="309.10" y1="374.40" x2="312.40" y2="374.40" stroke="#808080" stroke-width="1.1"/>
<text x="288.48" y="378.70" font-size="12.50" font-weight="bold" font-style="normal" textLength="13.52" lengthAdjust="spacingAndGlyphs" fill="#111" stroke="#111" stroke-width="0.55">20</text>
<line x1="309.10" y1="396.00" x2="312.40" y2="396.00" stroke="#808080" stroke-width="1.1"/>
<text x="294.68" y="400.30" font-size="12.50" font-weight="bold" font-style="normal" textLength="7.37" lengthAdjust="spacingAndGlyphs" fill="#111" stroke="#111" stroke-width="0.55">0</text>
<line x1="366.07" y1="396.00" x2="366.07" y2="401.20" stroke="#555" stroke-width="1.1"/>
<line x1="419.73" y1="396.00" x2="419.73" y2="401.20" stroke="#555" stroke-width="1.1"/>
<line x1="473.40" y1="396.00" x2="473.40" y2="401.20" stroke="#555" stroke-width="1.1"/>
<line x1="312.40" y1="396.00" x2="312.40" y2="401.20" stroke="#555" stroke-width="1.1"/>
<text x="326.78" y="423.80" font-size="15.26" font-weight="bold" font-style="normal" textLength="24.36" lengthAdjust="spacingAndGlyphs" fill="#111" stroke="#111" stroke-width="0.55">20:1</text>
<text x="380.44" y="423.80" font-size="15.26" font-weight="bold" font-style="normal" textLength="24.20" lengthAdjust="spacingAndGlyphs" fill="#111" stroke="#111" stroke-width="0.55">10:1</text>
<text x="437.63" y="423.80" font-size="15.26" font-weight="bold" font-style="normal" textLength="17.61" lengthAdjust="spacingAndGlyphs" fill="#111" stroke="#111" stroke-width="0.55">5:1</text>
<text x="384.07" y="439.20" font-size="14.24" font-weight="bold" font-style="normal" textLength="19.96" lengthAdjust="spacingAndGlyphs" fill="#111" stroke="#111" stroke-width="0.55">E:T</text>
<text transform="translate(275.90,404.22) rotate(-90)" x="0" y="0" font-size="12.35" font-weight="bold" textLength="123.95" lengthAdjust="spacingAndGlyphs" fill="#111" stroke="#111" stroke-width="0.55">Specific Lysis (%)</text>
<line x1="339.23" y1="324.40" x2="339.23" y2="333.90" stroke="#999" stroke-width="0.8"/>
<line x1="338.03" y1="324.40" x2="340.43" y2="324.40" stroke="#999" stroke-width="0.8"/>
<line x1="338.03" y1="333.90" x2="340.43" y2="333.90" stroke="#999" stroke-width="0.8"/>
<line x1="339.23" y1="315.50" x2="339.23" y2="322.50" stroke="#999" stroke-width="0.8"/>
<line x1="338.03" y1="315.50" x2="340.43" y2="315.50" stroke="#999" stroke-width="0.8"/>
<line x1="338.03" y1="322.50" x2="340.43" y2="322.50" stroke="#999" stroke-width="0.8"/>
<path d="M339.23,361.30 L392.90,370.00 L446.57,377.00" fill="none" stroke="#1a1a1a" stroke-width="1.55" stroke-linejoin="round" stroke-dasharray="1.6,2.6"/>
<path d="M339.23,319.20 L392.90,336.50 L446.57,346.20" fill="none" stroke="#1a1a1a" stroke-width="1.55" stroke-linejoin="round" stroke-dasharray="6.5,3.5"/>
<path d="M339.23,329.10 L392.90,331.30 L446.57,342.40" fill="none" stroke="#1a1a1a" stroke-width="1.45" stroke-linejoin="round"/>
<rect x="337.03" y="359.10" width="4.40" height="4.40" fill="#111"/>
<rect x="390.70" y="367.80" width="4.40" height="4.40" fill="#111"/>
<rect x="444.37" y="374.80" width="4.40" height="4.40" fill="#111"/>
<path d="M339.23,316.56 L341.63,320.88 L336.83,320.88 Z" fill="#111" stroke="none" stroke-width="1" stroke-linejoin="round"/>
<path d="M392.90,333.86 L395.30,338.18 L390.50,338.18 Z" fill="#111" stroke="none" stroke-width="1" stroke-linejoin="round"/>
<path d="M446.57,343.56 L448.97,347.88 L444.17,347.88 Z" fill="#111" stroke="none" stroke-width="1" stroke-linejoin="round"/>
<path d="M339.23,326.80 L341.53,329.10 L339.23,331.40 L336.93,329.10 Z" fill="#111" stroke="none" stroke-width="1" stroke-linejoin="round"/>
<path d="M392.90,329.00 L395.20,331.30 L392.90,333.60 L390.60,331.30 Z" fill="#111" stroke="none" stroke-width="1" stroke-linejoin="round"/>
<path d="M446.57,340.10 L448.87,342.40 L446.57,344.70 L444.27,342.40 Z" fill="#111" stroke="none" stroke-width="1" stroke-linejoin="round"/>
<circle cx="339.23" cy="306.20" r="1.6" fill="#111"/>
<circle cx="392.90" cy="323.20" r="1.6" fill="#111"/>
<circle cx="446.57" cy="334.40" r="1.6" fill="#111"/>
<line x1="462.20" y1="290.70" x2="474.10" y2="290.70" stroke="#1a1a1a" stroke-width="1.3"/>
<path d="M468.50,288.50 L470.70,290.70 L468.50,292.90 L466.30,290.70 Z" fill="#111" stroke="none" stroke-width="1" stroke-linejoin="round"/>
<text x="475.84" y="294.10" font-size="10.32" font-weight="bold" font-style="normal" textLength="37.56" lengthAdjust="spacingAndGlyphs" fill="#111" stroke="#111" stroke-width="0.55">No mAb</text>
<circle cx="462.90" cy="326.40" r="0.75" fill="#111"/>
<circle cx="472.20" cy="326.40" r="0.75" fill="#111"/>
<rect x="466.55" y="324.55" width="3.70" height="3.70" fill="#111"/>
<text x="476.21" y="329.81" font-size="8.99" font-weight="bold" font-style="normal" textLength="17.70" lengthAdjust="spacingAndGlyphs" fill="#111" stroke="#111" stroke-width="0.55">anti</text>
<text x="475.85" y="342.90" font-size="10.49" font-weight="bold" font-style="normal" textLength="38.55" lengthAdjust="spacingAndGlyphs" fill="#111" stroke="#111" stroke-width="0.55">hNKG2D</text>
<line x1="462.20" y1="362.60" x2="466.30" y2="362.60" stroke="#1a1a1a" stroke-width="1.3"/>
<line x1="471.40" y1="362.60" x2="473.50" y2="362.60" stroke="#1a1a1a" stroke-width="1.3"/>
<path d="M469.00,360.39 L471.10,364.17 L466.90,364.17 Z" fill="#111" stroke="none" stroke-width="1" stroke-linejoin="round"/>
<text x="476.17" y="365.94" font-size="10.39" font-weight="bold" font-style="normal" textLength="32.85" lengthAdjust="spacingAndGlyphs" fill="#111" stroke="#111" stroke-width="0.55">Isotype</text>
<text x="476.71" y="378.91" font-size="9.67" font-weight="bold" font-style="normal" textLength="34.18" lengthAdjust="spacingAndGlyphs" fill="#111" stroke="#111" stroke-width="0.55">Control</text>
<line x1="312.90" y1="466.90" x2="312.90" y2="576.60" stroke="#808080" stroke-width="1.1"/>
<line x1="312.30" y1="576.00" x2="473.40" y2="576.00" stroke="#555" stroke-width="1.2"/>
<line x1="309.60" y1="467.40" x2="312.90" y2="467.40" stroke="#808080" stroke-width="1.1"/>
<text x="282.84" y="471.70" font-size="12.50" font-weight="bold" font-style="normal" textLength="20.16" lengthAdjust="spacingAndGlyphs" fill="#111" stroke="#111" stroke-width="0.55">100</text>
<line x1="309.60" y1="489.12" x2="312.90" y2="489.12" stroke="#808080" stroke-width="1.1"/>
<text x="289.52" y="493.42" font-size="12.50" font-weight="bold" font-style="normal" textLength="13.48" lengthAdjust="spacingAndGlyphs" fill="#111" stroke="#111" stroke-width="0.55">80</text>
<line x1="309.60" y1="510.84" x2="312.90" y2="510.84" stroke="#808080" stroke-width="1.1"/>
<text x="289.45" y="515.14" font-size="12.50" font-weight="bold" font-style="normal" textLength="13.55" lengthAdjust="spacingAndGlyphs" fill="#111" stroke="#111" stroke-width="0.55">60</text>
<line x1="309.60" y1="532.56" x2="312.90" y2="532.56" stroke="#808080" stroke-width="1.1"/>
<text x="289.72" y="536.86" font-size="12.50" font-weight="bold" font-style="normal" textLength="13.27" lengthAdjust="spacingAndGlyphs" fill="#111" stroke="#111" stroke-width="0.55">40</text>
<line x1="309.60" y1="554.28" x2="312.90" y2="554.28" stroke="#808080" stroke-width="1.1"/>
<text x="289.48" y="558.58" font-size="12.50" font-weight="bold" font-style="normal" textLength="13.52" lengthAdjust="spacingAndGlyphs" fill="#111" stroke="#111" stroke-width="0.55">20</text>
<line x1="309.60" y1="576.00" x2="312.90" y2="576.00" stroke="#808080" stroke-width="1.1"/>
<text x="295.68" y="580.30" font-size="12.50" font-weight="bold" font-style="normal" textLength="7.37" lengthAdjust="spacingAndGlyphs" fill="#111" stroke="#111" stroke-width="0.55">0</text>
<line x1="366.40" y1="576.00" x2="366.40" y2="581.20" stroke="#555" stroke-width="1.1"/>
<line x1="419.90" y1="576.00" x2="419.90" y2="581.20" stroke="#555" stroke-width="1.1"/>
<line x1="473.40" y1="576.00" x2="473.40" y2="581.20" stroke="#555" stroke-width="1.1"/>
<line x1="312.90" y1="576.00" x2="312.90" y2="581.20" stroke="#555" stroke-width="1.1"/>
<text x="327.69" y="603.70" font-size="14.83" font-weight="bold" font-style="normal" textLength="23.84" lengthAdjust="spacingAndGlyphs" fill="#111" stroke="#111" stroke-width="0.55">20:1</text>
<text x="381.14" y="603.70" font-size="14.83" font-weight="bold" font-style="normal" textLength="24.20" lengthAdjust="spacingAndGlyphs" fill="#111" stroke="#111" stroke-width="0.55">10:1</text>
<text x="438.12" y="603.70" font-size="14.83" font-weight="bold" font-style="normal" textLength="18.03" lengthAdjust="spacingAndGlyphs" fill="#111" stroke="#111" stroke-width="0.55">5:1</text>
<text x="383.56" y="618.10" font-size="15.41" font-weight="bold" font-style="normal" textLength="20.28" lengthAdjust="spacingAndGlyphs" fill="#111" stroke="#111" stroke-width="0.55">E:T</text>
<text transform="translate(277.20,579.22) rotate(-90)" x="0" y="0" font-size="12.65" font-weight="bold" textLength="123.95" lengthAdjust="spacingAndGlyphs" fill="#111" stroke="#111" stroke-width="0.55">Specific Lysis (%)</text>
<line x1="339.65" y1="491.50" x2="339.65" y2="498.50" stroke="#999" stroke-width="0.8"/>
<line x1="338.45" y1="491.50" x2="340.85" y2="491.50" stroke="#999" stroke-width="0.8"/>
<line x1="338.45" y1="498.50" x2="340.85" y2="498.50" stroke="#999" stroke-width="0.8"/>
<line x1="393.15" y1="496.20" x2="393.15" y2="503.00" stroke="#999" stroke-width="0.8"/>
<line x1="391.95" y1="496.20" x2="394.35" y2="496.20" stroke="#999" stroke-width="0.8"/>
<line x1="391.95" y1="503.00" x2="394.35" y2="503.00" stroke="#999" stroke-width="0.8"/>
<line x1="446.65" y1="502.30" x2="446.65" y2="511.50" stroke="#999" stroke-width="0.8"/>
<line x1="445.45" y1="502.30" x2="447.85" y2="502.30" stroke="#999" stroke-width="0.8"/>
<line x1="445.45" y1="511.50" x2="447.85" y2="511.50" stroke="#999" stroke-width="0.8"/>
<path d="M339.65,494.40 L393.15,497.00 L446.65,504.00" fill="none" stroke="#1a1a1a" stroke-width="1.55" stroke-linejoin="round" stroke-dasharray="1.6,2.6"/>
<path d="M339.65,496.00 L393.15,500.20 L446.65,509.00" fill="none" stroke="#1a1a1a" stroke-width="1.55" stroke-linejoin="round" stroke-dasharray="6.5,3.5"/>
<path d="M339.65,495.80 L393.15,499.80 L446.65,505.60" fill="none" stroke="#1a1a1a" stroke-width="1.45" stroke-linejoin="round"/>
<rect x="337.45" y="492.20" width="4.40" height="4.40" fill="#111"/>
<rect x="390.95" y="494.80" width="4.40" height="4.40" fill="#111"/>
<rect x="444.45" y="501.80" width="4.40" height="4.40" fill="#111"/>
<path d="M339.65,493.36 L342.05,497.68 L337.25,497.68 Z" fill="#111" stroke="none" stroke-width="1" stroke-linejoin="round"/>
<path d="M393.15,497.56 L395.55,501.88 L390.75,501.88 Z" fill="#111" stroke="none" stroke-width="1" stroke-linejoin="round"/>
<path d="M446.65,506.36 L449.05,510.68 L444.25,510.68 Z" fill="#111" stroke="none" stroke-width="1" stroke-linejoin="round"/>
<path d="M339.65,493.50 L341.95,495.80 L339.65,498.10 L337.35,495.80 Z" fill="#111" stroke="none" stroke-width="1" stroke-linejoin="round"/>
<path d="M393.15,497.50 L395.45,499.80 L393.15,502.10 L390.85,499.80 Z" fill="#111" stroke="none" stroke-width="1" stroke-linejoin="round"/>
<path d="M446.65,503.30 L448.95,505.60 L446.65,507.90 L444.35,505.60 Z" fill="#111" stroke="none" stroke-width="1" stroke-linejoin="round"/>
<text x="332.90" y="482.00" font-size="10.17" font-weight="normal" font-style="italic" textLength="13.50" lengthAdjust="spacingAndGlyphs" fill="#111" stroke="#111" stroke-width="0.45">NS</text>
<text x="388.30" y="489.00" font-size="10.03" font-weight="normal" font-style="italic" textLength="13.50" lengthAdjust="spacingAndGlyphs" fill="#111" stroke="#111" stroke-width="0.45">NS</text>
<text x="443.70" y="496.60" font-size="9.59" font-weight="normal" font-style="italic" textLength="13.61" lengthAdjust="spacingAndGlyphs" fill="#111" stroke="#111" stroke-width="0.45">NS</text>
<line x1="463.40" y1="471.00" x2="475.30" y2="471.00" stroke="#1a1a1a" stroke-width="1.3"/>
<path d="M469.30,468.80 L471.50,471.00 L469.30,473.20 L467.10,471.00 Z" fill="#111" stroke="none" stroke-width="1" stroke-linejoin="round"/>
<text x="477.05" y="474.50" font-size="10.32" font-weight="bold" font-style="normal" textLength="37.15" lengthAdjust="spacingAndGlyphs" fill="#111" stroke="#111" stroke-width="0.55">No mAb</text>
<circle cx="463.80" cy="509.70" r="0.75" fill="#111"/>
<circle cx="474.00" cy="509.70" r="0.75" fill="#111"/>
<rect x="467.55" y="507.85" width="3.70" height="3.70" fill="#111"/>
<text x="477.42" y="513.01" font-size="8.99" font-weight="bold" font-style="normal" textLength="17.06" lengthAdjust="spacingAndGlyphs" fill="#111" stroke="#111" stroke-width="0.55">anti</text>
<text x="477.05" y="526.50" font-size="11.04" font-weight="bold" font-style="normal" textLength="42.01" lengthAdjust="spacingAndGlyphs" fill="#111" stroke="#111" stroke-width="0.55">hDNAM-1</text>
<line x1="464.00" y1="548.40" x2="467.30" y2="548.40" stroke="#1a1a1a" stroke-width="1.3"/>
<line x1="472.30" y1="548.40" x2="474.70" y2="548.40" stroke="#1a1a1a" stroke-width="1.3"/>
<path d="M469.30,546.39 L471.40,550.17 L467.20,550.17 Z" fill="#111" stroke="none" stroke-width="1" stroke-linejoin="round"/>
<text x="477.07" y="551.41" font-size="10.05" font-weight="bold" font-style="normal" textLength="33.16" lengthAdjust="spacingAndGlyphs" fill="#111" stroke="#111" stroke-width="0.55">Isotype</text>
<text x="477.92" y="565.30" font-size="10.21" font-weight="bold" font-style="normal" textLength="33.25" lengthAdjust="spacingAndGlyphs" fill="#111" stroke="#111" stroke-width="0.55">Control</text>
<rect x="57.2" y="346.6" width="4.1" height="6.3" rx="1.2" fill="#111"/>
</svg>
</body></html>
